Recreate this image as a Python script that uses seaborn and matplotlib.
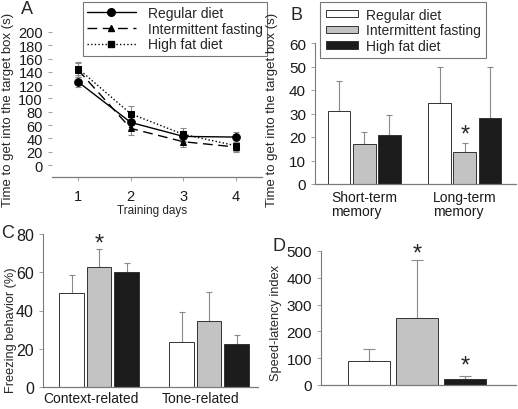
import numpy as np
import pandas as pd
import matplotlib
matplotlib.use("Agg")
import matplotlib.pyplot as plt
import matplotlib.transforms as mtransforms
from matplotlib.lines import Line2D
from matplotlib.patches import Patch
import seaborn as sns

sns.set_style("ticks")
plt.rcParams['font.family'] = ['Liberation Sans', 'DejaVu Sans']

# ---------------- data ----------------
diets = ["Regular diet", "Intermittent fasting", "High fat diet"]
bar_colors = ["#ffffff", "#c3c3c3", "#1c1c1c"]

# Panel A
days = [1, 2, 3, 4]
a_regular = [125, 64, 43, 42]
a_regular_err = [8, 10, 8, 7]
a_fasting = [143, 55, 35, 27]
a_fasting_err = [10, 10, 8, 8]
a_highfat = [145, 77, 46, 29]
a_highfat_err = [10, 12, 10, 8]
a_yticks = [0, 20, 40, 60, 80, 100, 120, 140, 160, 180, 200]

# Panel B
b_groups = ["Short-term\nmemory", "Long-term\nmemory"]
b_regular = [31, 34.5]
b_regular_err = [13, 15.5]
b_fasting = [17, 13.5]
b_fasting_err = [5, 4]
b_highfat = [21, 28]
b_highfat_err = [8.5, 22]
b_star = ("Long-term\nmemory", 1, 21)

# Panel C
c_groups = ["Context-related", "Tone-related"]
c_regular = [49, 23.5]
c_regular_err = [9.5, 15.5]
c_fasting = [63, 34.5]
c_fasting_err = [9, 15]
c_highfat = [60, 22.5]
c_highfat_err = [5, 4.5]

# Panel D
d_values = [90, 250, 22]
d_err = [45, 215, 10]
d_stars = [(1, 492), (2, 72)]

W, H = 518, 410
fig = plt.figure(figsize=(W / 100, H / 100), dpi=100)


def px_axes(l, t, r, b):
    return fig.add_axes([l / W, 1 - b / H, (r - l) / W, (b - t) / H])


spine_col = "#7a7a7a"
err_col = "#8a8a8a"


def style_axes(ax, left=True):
    for s in ["top", "right"]:
        ax.spines[s].set_visible(False)
    ax.spines["bottom"].set_color(spine_col)
    ax.spines["bottom"].set_linewidth(0.9)
    ax.spines["left"].set_color(spine_col if left else "none")
    ax.spines["left"].set_linewidth(0.8)
    ax.tick_params(axis="both", colors="#a0a0a0", labelcolor="#1a1a1a",
                   width=0.7, length=3)


def long_df(groups, series):
    rows = []
    for d, vals in zip(diets, series):
        for g, v in zip(groups, vals):
            rows.append({"group": g, "diet": d, "value": v})
    return pd.DataFrame(rows)


def add_bar_errors(ax, errs, capsize):
    for cont, e in zip(ax.containers, errs):
        for bar, ev in zip(cont, e):
            x = bar.get_x() + bar.get_width() / 2
            top = bar.get_height()
            ax.errorbar([x], [top], yerr=[[0], [ev]], fmt="none",
                        ecolor=err_col, elinewidth=0.8, capsize=capsize,
                        capthick=0.8, zorder=1)


# ---------------- Panel A ----------------
axA = px_axes(52, 5, 262, 178)
style_axes(axA, left=False)
a_series = [a_regular, a_fasting, a_highfat]
a_errs = [a_regular_err, a_fasting_err, a_highfat_err]
a_styles = ["-", (0, (7, 4)), (0, (1, 1.6))]
a_markers = ["o", "^", "s"]
a_msize = [5.5, 4, 5]
for vals, errs, ls, mk, ms, lab in zip(a_series, a_errs, a_styles, a_markers, a_msize, diets):
    axA.errorbar(days, vals, yerr=errs, fmt="none", ecolor=err_col,
                 elinewidth=0.8, capsize=2.5, capthick=0.8, zorder=1)
    sns.lineplot(x=days, y=vals, ax=axA, color="black", linestyle=ls,
                 marker=mk, markersize=ms, markeredgecolor="black",
                 linewidth=1.0, label=lab, legend=False, zorder=3)
axA.set_xlim(0.506, 4.49)
axA.set_ylim(-18, 242)
axA.set_yticks(a_yticks)
axA.set_xticks(days)
axA.tick_params(axis="both", labelsize=10.5)
axA.tick_params(axis="x", pad=6)
axA.set_xlabel("Training days", fontsize=8.5)
axA.xaxis.set_label_coords(0.476, -0.155)
axA.set_ylabel("Time to get into the target box (s)", fontsize=9.5, va="center")
axA.yaxis.set_label_coords(-0.2095, 0.393)
handlesA = [Line2D([], [], color="black", linestyle=ls, marker=mk, markersize=ms, lw=1.0)
            for ls, mk, ms in zip(a_styles, a_markers, a_msize)]
legA = axA.legend(handlesA, diets, loc="upper left",
                  bbox_to_anchor=(83 / W, 1 - 3 / H), bbox_transform=fig.transFigure,
                  frameon=True, fancybox=False, edgecolor="#555555", fontsize=10,
                  handlelength=3.5, handletextpad=0.9, labelspacing=0.12,
                  borderpad=0.3, borderaxespad=0)
legA.get_frame().set_linewidth(0.8)

# ---------------- Panel B ----------------
axB = px_axes(315, 44, 516, 185)
style_axes(axB)
dfB = long_df(b_groups, [b_regular, b_fasting, b_highfat])
sns.barplot(data=dfB, x="group", y="value", hue="diet", palette=bar_colors,
            width=0.75, gap=0.1, edgecolor="#333333", linewidth=0.7,
            errorbar=None, ax=axB, legend=False, zorder=2)
add_bar_errors(axB, [b_regular_err, b_fasting_err, b_highfat_err], 2)
axB.set_xlim(-0.49, 1.51)
axB.set_ylim(0, 60)
axB.set_yticks(range(0, 61, 10))
axB.tick_params(axis="y", labelsize=11)
axB.tick_params(axis="x", length=0, labelsize=10, pad=4)
for t in axB.get_xticklabels():
    t.set_multialignment("left")
    t.set_linespacing(1.0)
axB.set_xlabel("")
axB.set_ylabel("Time to get into the target box (s)", fontsize=9.5, va="center")
axB.yaxis.set_label_coords(-0.214, 0.532)
cont = axB.containers[1]
bar = cont[b_star[1]]
axB.text(bar.get_x() + bar.get_width() / 2, b_star[2], "*", ha="center",
         va="center", fontsize=17)
handlesB = [Patch(facecolor=c, edgecolor="#333333", linewidth=0.7) for c in bar_colors]
legB = axB.legend(handlesB, diets, loc="upper left",
                  bbox_to_anchor=(320 / W, 1 - 3 / H), bbox_transform=fig.transFigure,
                  frameon=True, fancybox=False, edgecolor="#555555", fontsize=10,
                  handlelength=2.3, handleheight=0.45, handletextpad=0.6,
                  labelspacing=0.12, borderpad=0.4, borderaxespad=0)
legB.get_frame().set_linewidth(0.8)

# ---------------- Panel C ----------------
axC = px_axes(43, 235, 258, 388)
style_axes(axC)
dfC = long_df(c_groups, [c_regular, c_fasting, c_highfat])
sns.barplot(data=dfC, x="group", y="value", hue="diet", palette=bar_colors,
            width=0.75, gap=0.12, edgecolor="#333333", linewidth=0.7,
            errorbar=None, ax=axC, legend=False, zorder=2)
add_bar_errors(axC, [c_regular_err, c_fasting_err, c_highfat_err], 2)
axC.set_xlim(-0.51, 1.445)
axC.set_ylim(0, 80)
axC.set_yticks(range(0, 81, 20))
axC.tick_params(axis="y", labelsize=11.5)
axC.tick_params(axis="x", length=0, labelsize=10, pad=3)
offC = mtransforms.ScaledTranslation(-8 / 100, 0, fig.dpi_scale_trans)
for t in axC.get_xticklabels():
    t.set_transform(t.get_transform() + offC)
axC.set_xlabel("")
axC.set_ylabel("Freezing behavior (%)", fontsize=9.2, va="center")
axC.yaxis.set_label_coords((11 - 43) / 215, (388 - 330) / 153)
barC = axC.containers[1][0]
axC.text(barC.get_x() + barC.get_width() / 2, 75, "*", ha="center",
         va="center", fontsize=17)

# ---------------- Panel D ----------------
axD = px_axes(321, 252, 516, 386)
style_axes(axD)
dfD = pd.DataFrame({"diet": diets, "value": d_values})
sns.barplot(data=dfD, x="diet", y="value", hue="diet", palette=bar_colors,
            width=0.88, edgecolor="#333333", linewidth=0.7, errorbar=None,
            ax=axD, legend=False, zorder=2)
for cont, ev in zip(axD.containers, d_err):
    for b in cont:
        x = b.get_x() + b.get_width() / 2
        axD.errorbar([x], [b.get_height()], yerr=[[0], [ev]], fmt="none",
                     ecolor=err_col, elinewidth=0.8, capsize=4, capthick=0.8, zorder=1)
axD.set_xlim(-1.016, 3.07)
axD.set_ylim(0, 500)
axD.set_yticks(range(0, 501, 100))
axD.set_xticks([])
axD.tick_params(axis="y", labelsize=11)
axD.set_xlabel("")
axD.set_ylabel("Speed-latency index", fontsize=9.2, va="center")
axD.yaxis.set_label_coords((276 - 321) / 195, (386 - 323) / 134)
for i, yv in d_stars:
    axD.text(i, yv, "*", ha="center", va="center", fontsize=17)

# ---------------- panel letters ----------------
for lab, x, y in [("A", 27, 10), ("B", 296, 15), ("C", 8, 234), ("D", 279, 247)]:
    fig.text(x / W, 1 - y / H, lab, ha="center", va="center", fontsize=13)

fig.savefig("out.png", dpi=100)
